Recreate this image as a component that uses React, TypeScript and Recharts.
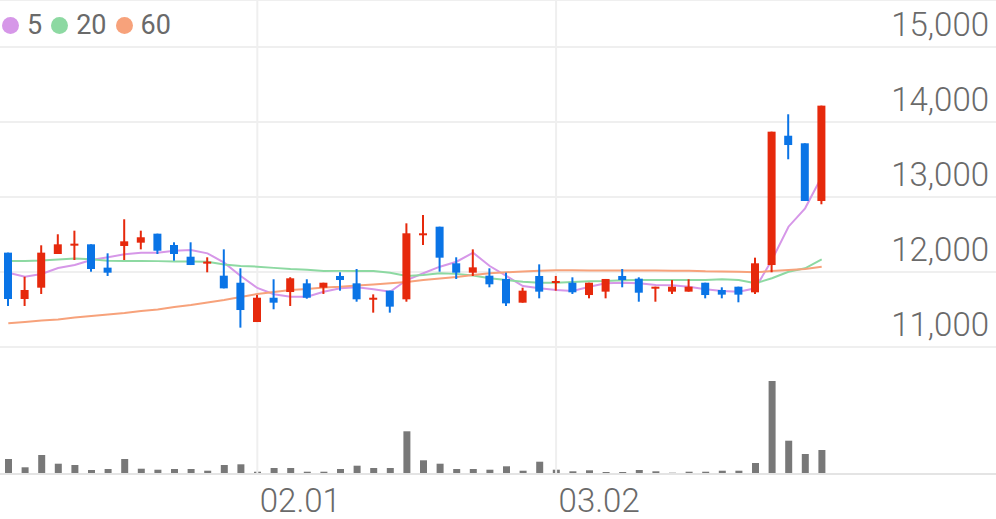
import React from 'react';
import { ComposedChart, Bar, Line, XAxis, YAxis, CartesianGrid, ReferenceLine } from 'recharts';

const dates = [
  '01.09', '01.10', '01.11', '01.12', '01.13', '01.16', '01.17', '01.18', '01.19', '01.20',
  '01.25', '01.26', '01.27', '01.30', '01.31', '02.01', '02.02', '02.03', '02.06', '02.07',
  '02.08', '02.09', '02.10', '02.13', '02.14', '02.15', '02.16', '02.17', '02.20', '02.21',
  '02.22', '02.23', '02.24', '03.02', '03.03', '03.06', '03.07', '03.08', '03.09', '03.10',
  '03.13', '03.14', '03.15', '03.16', '03.17', '03.20', '03.21', '03.22', '03.23', '03.24',
];
const padSlots = ['p1', 'p2', 'p3', 'p4', 'p5', 'p6', 'p7', 'p8', 'p9', 'p10'];

const opens = [
  12258, 11640, 11791, 12240, 12351, 12369, 12058, 12347, 12391, 12511,
  12360, 12204, 12120, 11951, 11857, 11333, 11657, 11733, 11849, 11791,
  11947, 11849, 11644, 11751, 11636, 12493, 12604, 12116, 11991, 11951,
  11907, 11591, 11947, 11862, 11857, 11693, 11738, 11947, 11911, 11796,
  11738, 11738, 11857, 11760, 11804, 11729, 12093, 13817, 13716, 12947,
];
const highs = [
  12258, 11937, 12356, 12503, 12551, 12369, 12249, 12703, 12551, 12511,
  12396, 12396, 12196, 12302, 12049, 11693, 11903, 11930, 11903, 11857,
  11996, 12040, 11702, 11751, 12649, 12760, 12604, 12196, 12302, 12049,
  11991, 11791, 12102, 11947, 11929, 11857, 11907, 12040, 11929, 11804,
  11893, 11903, 11857, 11796, 11804, 12191, 13871, 14103, 13716, 14218,
];
const lows = [
  11547, 11547, 11707, 12240, 12160, 12004, 11947, 12160, 12302, 12240,
  12151, 12093, 11996, 11782, 11258, 11333, 11503, 11547, 11644, 11707,
  11751, 11604, 11458, 11458, 11604, 12360, 12004, 11907, 11947, 11796,
  11547, 11591, 11649, 11751, 11707, 11649, 11649, 11796, 11604, 11604,
  11707, 11738, 11649, 11649, 11596, 11707, 11996, 13503, 12947, 12903,
];
const closes = [
  11640, 11760, 12258, 12369, 12378, 12040, 11991, 12409, 12463, 12284,
  12240, 12093, 12138, 11782, 11493, 11657, 11591, 11916, 11657, 11857,
  11893, 11636, 11657, 11538, 12516, 12516, 12191, 11991, 12062, 11836,
  11582, 11751, 11738, 11880, 11729, 11857, 11907, 11893, 11724, 11804,
  11804, 11804, 11693, 11698, 11698, 12116, 13871, 13693, 12947, 14218,
];
const volumes = [
  150, 67, 190, 103, 90, 40, 50, 150, 53, 43,
  50, 50, 33, 90, 97, 23, 60, 60, 23, 23,
  50, 83, 60, 60, 427, 137, 103, 50, 50, 43,
  77, 33, 123, 43, 27, 37, 20, 20, 40, 27,
  13, 23, 23, 33, 33, 110, 930, 333, 200, 240,
];
const ma5 = [
  11991, 11937, 11973, 12053, 12093, 12160, 12196, 12236, 12257, 12257,
  12284, 12293, 12249, 12124, 11947, 11787, 11703, 11671, 11671, 11737,
  11783, 11796, 11769, 11737, 11893, 11983, 12071, 12137, 12257, 12080,
  11947, 11813, 11783, 11760, 11747, 11804, 11849, 11857, 11849, 11827,
  11822, 11804, 11769, 11747, 11737, 11783, 12160, 12604, 12849, 13271,
];
const ma20 = [
  12147, 12147, 12153, 12167, 12180, 12170, 12150, 12147, 12147, 12145,
  12140, 12140, 12138, 12100, 12080, 12071, 12055, 12040, 12030, 12013,
  12015, 12015, 12013, 11991, 11947, 11960, 11983, 11975, 11953, 11916,
  11893, 11871, 11857, 11857, 11867, 11876, 11880, 11889, 11893, 11893,
  11893, 11893, 11893, 11903, 11893, 11849, 11916, 12004, 12049, 12169,
];
const ma60 = [
  11316, 11333, 11353, 11367, 11393, 11413, 11433, 11453, 11480, 11500,
  11533, 11560, 11593, 11627, 11667, 11707, 11733, 11760, 11773, 11793,
  11804, 11820, 11833, 11849, 11867, 11893, 11913, 11933, 11960, 11983,
  11996, 12007, 12018, 12023, 12022, 12021, 12020, 12020, 12020, 12019,
  12018, 12016, 12009, 12007, 12004, 11996, 12013, 12027, 12040, 12071,
];

const priceTicks = [11000, 12000, 13000, 14000, 15000];
const dateTicks = ['02.01', '03.02'];
const maSeries = [
  { key: 'ma5', name: '5', color: '#d697e8' },
  { key: 'ma20', name: '20', color: '#8dd9a2' },
  { key: 'ma60', name: '60', color: '#f7a27b' },
];

const RED = '#e6290c';
const BLUE = '#0a74e6';
const GRID = '#efefef';
const TEXT = '#6a6a6a';
const FONT = 'Roboto, "Noto Sans", sans-serif';

type Row = {
  date: string;
  open?: number; high?: number; low?: number; close?: number;
  vol?: number; ma5?: number; ma20?: number; ma60?: number;
};

const data: Row[] = [
  ...dates.map((d, i) => ({
    date: d,
    open: opens[i], high: highs[i], low: lows[i], close: closes[i],
    vol: volumes[i], ma5: ma5[i], ma20: ma20[i], ma60: ma60[i],
  })),
  ...padSlots.map((p) => ({ date: p })),
];

const Candle = (props: any) => {
  const { x, y, width, height, payload } = props;
  if (!payload || payload.open == null || x == null || y == null) return null;
  const { open, high, low, close } = payload;
  const range = high - low;
  const h = Math.abs(height || 0);
  const top0 = height < 0 ? y + height : y;
  const toY = (v: number) => (range === 0 ? top0 : top0 + ((high - v) / range) * h);
  const color = close >= open ? RED : BLUE;
  const bTop = toY(Math.max(open, close));
  const bBot = toY(Math.min(open, close));
  const cx = x + width / 2;
  return (
    <g>
      <rect x={cx - 1} y={top0} width={2} height={Math.max(h, 1)} fill={color} />
      <rect x={x} y={bTop} width={width} height={Math.max(bBot - bTop, 2)} fill={color} />
    </g>
  );
};

const renderPriceTick = (props: any) => {
  const { y, payload } = props;
  return (
    <text x={989} y={y - 11} textAnchor="end" fontSize={33} fontWeight={300} fill={TEXT} fontFamily={FONT}>
      {Number(payload.value).toLocaleString('en-US')}
    </text>
  );
};

const renderDateTick = (props: any) => {
  const { x, payload } = props;
  return (
    <text x={x + 2.5} y={165} textAnchor="start" fontSize={33} fontWeight={300} fill={TEXT} fontFamily={FONT}>
      {payload.value}
    </text>
  );
};

export default function App() {
  return (
    <div style={{ position: 'absolute', left: 0, top: 0, width: 996, height: 519, background: '#fff', fontFamily: FONT }}>
      <div style={{ position: 'absolute', left: 0, top: 0 }}>
        <ComposedChart width={996} height={348} data={data} margin={{ top: 0, right: 0, bottom: 1, left: 0 }}>
          <CartesianGrid vertical={false} stroke={GRID} strokeWidth={2} />
          <XAxis dataKey="date" hide />
          <YAxis
            orientation="right"
            mirror
            width={110}
            domain={[11000, 15626.67]}
            allowDataOverflow
            ticks={priceTicks}
            interval={0}
            tick={renderPriceTick}
            axisLine={false}
            tickLine={false}
          />
          {dateTicks.map((t) => (
            <ReferenceLine key={t} x={t} stroke={GRID} strokeWidth={2} />
          ))}
          {maSeries.map((s) => (
            <Line
              key={s.key}
              dataKey={s.key}
              name={s.name}
              type="linear"
              stroke={s.color}
              strokeWidth={2}
              dot={false}
              activeDot={false}
              isAnimationActive={false}
            />
          ))}
          <Bar
            dataKey={(d: Row) => (d.open == null ? undefined : [d.low, d.high])}
            barSize={8}
            shape={<Candle />}
            isAnimationActive={false}
            legendType="none"
            {...({ zIndex: 600 } as any)}
          />
        </ComposedChart>
      </div>
      <div style={{ position: 'absolute', left: 0, top: 347 }}>
        <ComposedChart width={996} height={172} data={data} margin={{ top: 0, right: 0, bottom: 0, left: 0 }}>
          <XAxis
            dataKey="date"
            height={45}
            ticks={dateTicks}
            interval={0}
            tick={renderDateTick}
            tickLine={false}
            axisLine={{ stroke: '#e4e4e4', strokeWidth: 2 }}
          />
          <YAxis hide domain={[0, 1270]} />
          {dateTicks.map((t) => (
            <ReferenceLine key={t} x={t} stroke={GRID} strokeWidth={2} />
          ))}
          <Bar dataKey="vol" barSize={7} fill="#787878" isAnimationActive={false} />
        </ComposedChart>
      </div>
      <div
        style={{
          position: 'absolute', left: 0, top: 8, display: 'flex', alignItems: 'center',
          fontSize: 27, lineHeight: '34px', color: TEXT, fontFamily: FONT,
        }}
      >
        {maSeries.map((s) => (
          <div key={s.key} style={{ display: 'flex', alignItems: 'center', marginRight: 7 }}>
            <span
              style={{
                display: 'inline-block', width: 17, height: 17, borderRadius: '50%',
                background: s.color, marginLeft: 2, marginRight: 8,
              }}
            />
            <span>{s.name}</span>
          </div>
        ))}
      </div>
    </div>
  );
}
